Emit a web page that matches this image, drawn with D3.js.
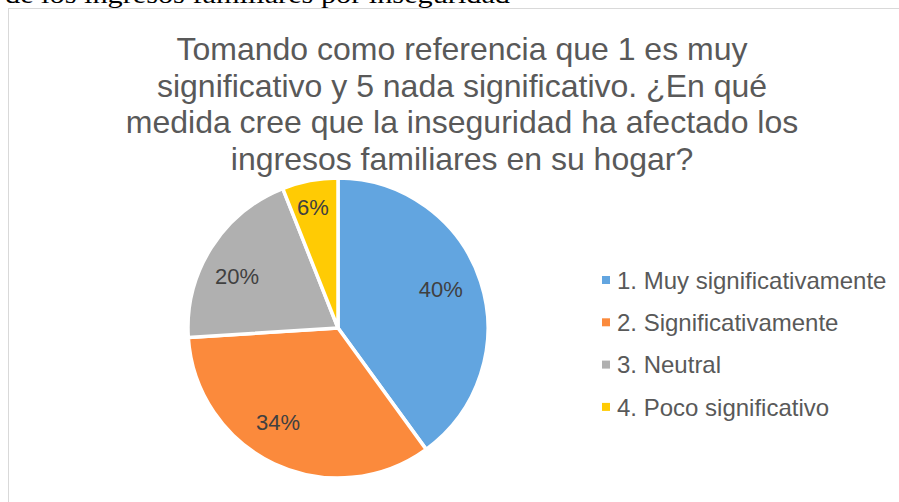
<!DOCTYPE html>
<html><head><meta charset="utf-8">
<script src="https://cdn.jsdelivr.net/npm/d3@7"></script>
<style>html,body{margin:0;padding:0;background:#fff;}svg{display:block;}</style>
</head><body>
<svg id="c" width="899" height="502"></svg>
<script>
const categories = ["1. Muy significativamente", "2. Significativamente", "3. Neutral", "4. Poco significativo"];
const values = [40, 34, 20, 6];
const labels = ["40%", "34%", "20%", "6%"];
const colors = ["#62a5e0", "#fb8a3c", "#b0b0b0", "#ffcb04"];
const titleLines = ["Tomando como referencia que 1 es muy", "significativo y 5 nada significativo. ¿En qué", "medida cree que la inseguridad ha afectado los", "ingresos familiares en su hogar?"];

const svg = d3.select("#c");
// cut-off document text above the chart
svg.append("text").attr("x", 5).attr("y", 3).attr("font-family", "Liberation Serif").attr("font-size", 26)
  .attr("fill", "#000").attr("textLength", 505).attr("lengthAdjust", "spacingAndGlyphs")
  .text("de los ingresos familiares por inseguridad");
// chart border
svg.append("rect").attr("x", 8.5).attr("y", 8.5).attr("width", 960).attr("height", 560)
  .attr("fill", "#fff").attr("stroke", "#d9d9d9").attr("stroke-width", 1);

// title
const title = svg.append("text").attr("font-family", "Liberation Sans, Arial, sans-serif")
  .attr("font-size", 32).attr("fill", "#595959").attr("text-anchor", "middle");
titleLines.forEach((t, i) => title.append("tspan").attr("x", 462).attr("y", 60 + i * 36.7).text(t));

// pie
const cx = 338, cy = 328, r = 150;
const pie = d3.pie().sort(null).value(d => d)(values);
const arc = d3.arc().innerRadius(0).outerRadius(r);
const g = svg.append("g").attr("transform", `translate(${cx},${cy})`);
g.selectAll("path").data(pie).join("path").attr("d", arc)
  .attr("fill", (d, i) => colors[i]).attr("stroke", "#fff").attr("stroke-width", 3.5).attr("stroke-linejoin", "round");

// label placement (Excel best-fit approximations)
const labelR = [0.733, 0.743, 0.757, 0.823];
const labelDA = [-2.7, 7.3, -5.2, -0.9];
g.selectAll("text").data(pie).join("text")
  .attr("transform", (d, i) => {
    const a = (d.startAngle + d.endAngle) / 2 + labelDA[i] * Math.PI / 180;
    const rr = r * labelR[i];
    return `translate(${rr * Math.sin(a)},${-rr * Math.cos(a)})`;
  })
  .attr("text-anchor", "middle").attr("dy", "0.36em")
  .attr("font-family", "Liberation Sans, Arial, sans-serif").attr("font-size", 22).attr("fill", "#404040")
  .text((d, i) => labels[i]);

// legend
const leg = svg.append("g").attr("font-family", "Liberation Sans, Arial, sans-serif").attr("font-size", 24).attr("fill", "#595959");
categories.forEach((c, i) => {
  const y = 280 + i * 42.3;
  leg.append("rect").attr("x", 602).attr("y", y - 4).attr("width", 8).attr("height", 8).attr("fill", colors[i]);
  leg.append("text").attr("x", 617).attr("y", y).attr("dy", "0.36em").text(c);
});
</script>
</body></html>
